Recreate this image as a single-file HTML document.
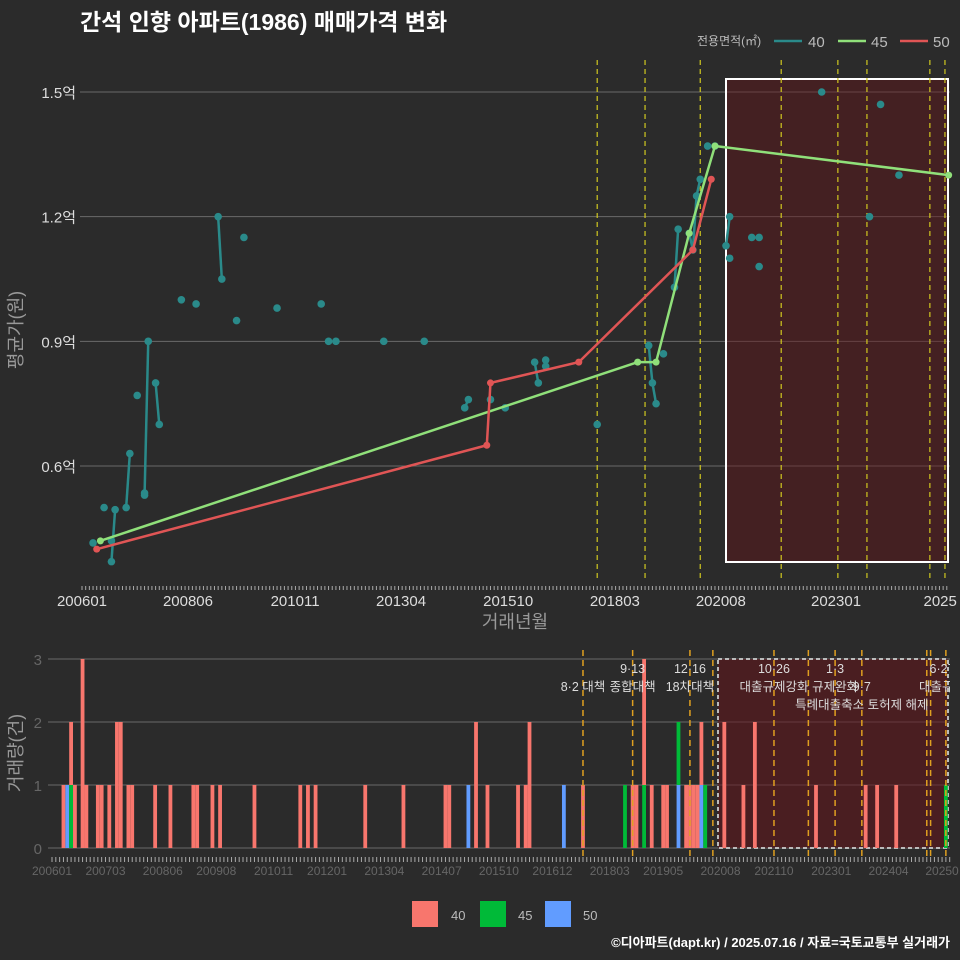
<!DOCTYPE html>
<html><head><meta charset="utf-8">
<style>
body{margin:0;background:#2b2b2b;}
svg{display:block;font-family:"Liberation Sans","Noto Sans CJK KR",sans-serif;}
</style></head>
<body>
<svg id="c" width="960" height="960" viewBox="0 0 960 960" xmlns="http://www.w3.org/2000/svg">
<rect width="960" height="960" fill="#2b2b2b"/>
<text x="80" y="30" fill="#ffffff" font-size="23" font-weight="bold">간석 인향 아파트(1986) 매매가격 변화</text>
<g font-size="12" fill="#bbbbbb">
<text x="697" y="45">전용면적(㎡)</text>
<line x1="774" y1="41" x2="802" y2="41" stroke="#2a8a8a" stroke-width="2.5"/>
<text x="808" y="47" font-size="15">40</text>
<line x1="838" y1="41" x2="866" y2="41" stroke="#90e07a" stroke-width="2.5"/>
<text x="871" y="47" font-size="15">45</text>
<line x1="900" y1="41" x2="928" y2="41" stroke="#e05555" stroke-width="2.5"/>
<text x="933" y="47" font-size="15">50</text>
</g>
<g id="topg"></g>
<g id="botg"></g>
<text x="515" y="628" fill="#999" font-size="18" text-anchor="middle">거래년월</text>
<text transform="translate(22,330) rotate(-90)" fill="#999" font-size="18" text-anchor="middle">평균가(원)</text>
<text transform="translate(22,753) rotate(-90)" fill="#999" font-size="18" text-anchor="middle">거래량(건)</text>
<g font-size="13" fill="#bbbbbb">
<rect x="412" y="901" width="26" height="26" fill="#f8766d"/>
<text x="451" y="920">40</text>
<rect x="480" y="901" width="26" height="26" fill="#00ba38"/>
<text x="518" y="920">45</text>
<rect x="545" y="901" width="26" height="26" fill="#619cff"/>
<text x="583" y="920">50</text>
</g>
<text x="950" y="947" fill="#ffffff" font-size="13" font-weight="bold" text-anchor="end">©디아파트(dapt.kr) / 2025.07.16 / 자료=국토교통부 실거래가</text>
<defs>
<clipPath id="bclip"><rect x="45" y="650" width="905" height="210"/></clipPath>
</defs>
</svg>
<script>
// ---- price data (month index from 2006-01, value in 억) ----
const m40=[3,6,8,8,9,12,13,15,17,17,18,20,21,27,31,37,38,42,44,53,65,67,69,82,93,104,105,111,115,123,124,126,126,140,154,155,156,158,161,162,165,166,167,168,170,172,175,176,176,182,184,184,201,214,217,222];
const v40=[0.415,0.50,0.42,0.37,0.495,0.50,0.63,0.77,0.535,0.53,0.90,0.80,0.70,1.0,0.99,1.20,1.05,0.95,1.15,0.98,0.99,0.90,0.90,0.90,0.90,0.74,0.76,0.76,0.74,0.85,0.80,0.855,0.84,0.70,0.89,0.80,0.75,0.87,1.03,1.17,1.16,1.12,1.25,1.29,1.37,1.37,1.13,1.20,1.10,1.15,1.15,1.08,1.50,1.20,1.47,1.30];
const m45=[5,151,156,165,172,235.5];
const v45=[0.42,0.85,0.85,1.16,1.37,1.30];
const m50=[4,110,111,135,166,171];
const v50=[0.40,0.65,0.80,0.85,1.12,1.29];
const yTicks=[0.6,0.9,1.2,1.5];
const yTickLabels=["0.6억","0.9억","1.2억","1.5억"];
const xTickMonths=[0,28.8,57.9,86.7,115.8,144.8,173.6,204.9,233.2];
const xTickLabels=["200601","200806","201011","201304","201510","201803","202008","202301","2025"];
const policyTop=[140,153,168,190,205.4,213.3,230.4,234.5];
// ---- volume data ----
const barMonths=[3,4,5,5,6,8,9,12,13,15,17,18,20,21,27,31,37,38,42,44,53,65,67,69,82,92,103,104,109,111,114,122,124,125,134,139,150,152,153,155,155,157,160,161,164,164,166,167,168,169,170,170,171,176,181,184,200,213,216,221,234];
const barCounts=[1,1,1,1,1,3,1,1,1,1,2,2,1,1,1,1,1,1,1,1,1,1,1,1,1,1,1,1,1,2,1,1,1,2,1,1,1,1,1,1,2,1,1,1,1,1,1,1,1,1,1,1,1,2,1,2,1,1,1,1,1];
const barTypes=["40","50","45","40","40","40","40","40","40","40","40","40","40","40","40","40","40","40","40","40","40","40","40","40","40","40","40","40","50","40","40","40","40","40","50","40","45","40","40","45","40","40","40","40","50","45","40","40","40","40","50","40","45","40","40","40","40","40","40","40","45"];
const bTickMonths=[0,14,29,43,58,72,87,102,117,131,146,160,175,189,204,219,233];
const bTickLabels=["200601","200703","200806","200908","201011","201201","201304","201407","201510","201612","201803","201905","202008","202110","202301","202404","20250"];
const policyBot=[139,152,167,173,189,198,205,212,229,230,234];
const annMonths=[139,152,152,167,167,189,189,205,205,212,212,233,233];
const annRows=[1,0,1,0,1,0,1,0,1,1,2,0,1];
const annTexts=["8·2 대책","9·13","종합대책","12·16","18차대책","10·26","대출규제강화","1·3","규제완화","9·7","특례대출축소 토허제 해제","6·27","대출규제"];

const NS="http://www.w3.org/2000/svg";
function mk(tag,at,parent){const e=document.createElementNS(NS,tag);for(const k in at)e.setAttribute(k,at[k]);parent.appendChild(e);return e;}
const xt=m=>82+3.68*m;
const yt=v=>92+(1.5-v)*415.6;
const xb=m=>52+3.82*m;
const yb=c=>848-63*c;
const topG=document.getElementById('topg'), botG=document.getElementById('botg');

yTicks.forEach((t,i)=>{
 const l=mk('line',{x1:80,x2:950,y1:yt(t),y2:yt(t),stroke:'#6a6a6a','stroke-width':1},topG);
 
 
 const tx=mk('text',{x:76,y:yt(t)+6,fill:'#dddddd','font-size':15,'text-anchor':'end'},topG);
 tx.textContent=yTickLabels[i];
 
 
});
for(let m=0;m<=235;m++){
 const l=mk('line',{x1:xt(m),x2:xt(m),y1:586,y2:590,stroke:'#aaaaaa','stroke-width':1},topG);
 
 
}
xTickMonths.forEach((m,i)=>{
 const tx=mk('text',{x:xt(m),y:606,fill:'#dddddd','font-size':15,'text-anchor':'middle'},topG);
 tx.textContent=xTickLabels[i];
 
 
});
const hr=mk('rect',{x:726,y:79,width:222,height:483,fill:'rgba(100,20,25,0.45)',stroke:'#ffffff','stroke-width':2},topG);


policyTop.forEach(m=>{
 const l=mk('line',{x1:xt(m),x2:xt(m),y1:60,y2:580,stroke:'#d0c820','stroke-width':1.2,'stroke-dasharray':'5,4'},topG);
 
 
});
for(let i=0;i<m40.length-1;i++){
 if(m40[i+1]-m40[i]===1){
  const l=mk('line',{x1:xt(m40[i]),y1:yt(v40[i]),x2:xt(m40[i+1]),y2:yt(v40[i+1]),stroke:'#2a8a8a','stroke-width':2.5},topG);
  
  
 }
}
m40.forEach((m,i)=>{
 const c=mk('circle',{cx:xt(m),cy:yt(v40[i]),r:3.8,fill:'#2a8a8a'},topG);
 
 
});
[[m45,v45,'#90e07a','45'],[m50,v50,'#e05555','50']].forEach(([ms,vs,col,nm])=>{
 const p=mk('polyline',{points:ms.map((m,i)=>xt(m)+','+yt(vs[i])).join(' '),fill:'none',stroke:col,'stroke-width':2.5},topG);
 
 
 ms.forEach((m,i)=>{
  const c=mk('circle',{cx:xt(m),cy:yt(vs[i]),r:3.5,fill:col},topG);
  
  
 });
});

[0,1,2,3].forEach(t=>{
 const l=mk('line',{x1:48,x2:950,y1:yb(t),y2:yb(t),stroke:'#6a6a6a','stroke-width':1},botG);
 
 
 const tx=mk('text',{x:42,y:yb(t)+6,fill:'#666666','font-size':15,'text-anchor':'end'},botG);
 tx.textContent=String(t);
 
 
});
const br=mk('rect',{x:718,y:659,width:230,height:189,fill:'rgba(100,20,25,0.55)',stroke:'#bbbbbb','stroke-width':2,'stroke-dasharray':'4,3'},botG);


const colors={"40":"#f8766d","45":"#00ba38","50":"#619cff"};
const stack={};
barMonths.forEach((m,i)=>{
 const base=stack[m]||0;
 const c=barCounts[i];
 const r=mk('rect',{x:xb(m)-1.9,y:yb(base+c),width:3.8,height:63*c,fill:colors[barTypes[i]]},botG);
 
 
 stack[m]=base+c;
});
const g=mk('g',{'clip-path':'url(#bclip)'},botG);


policyBot.forEach(m=>{
 const l=mk('line',{x1:xb(m),x2:xb(m),y1:650,y2:856,stroke:'#e0a020','stroke-width':1.5,'stroke-dasharray':'6,4'},g);
 
 
});
annTexts.forEach((t,i)=>{
 const tx=mk('text',{x:xb(annMonths[i]),y:673+annRows[i]*18,fill:'#dddddd','font-size':12.5,'text-anchor':'middle'},g);
 tx.textContent=t;
 
 
});
for(let m=0;m<=235;m++){
 const l=mk('line',{x1:xb(m),x2:xb(m),y1:857,y2:862,stroke:'#aaaaaa','stroke-width':1},botG);
 
 
}
bTickLabels.forEach((t,i)=>{
 const tx=mk('text',{x:xb(bTickMonths[i]),y:875,fill:'#666666','font-size':12,'text-anchor':'middle'},botG);
 tx.textContent=t;
 
 
});
</script>
</body></html>
